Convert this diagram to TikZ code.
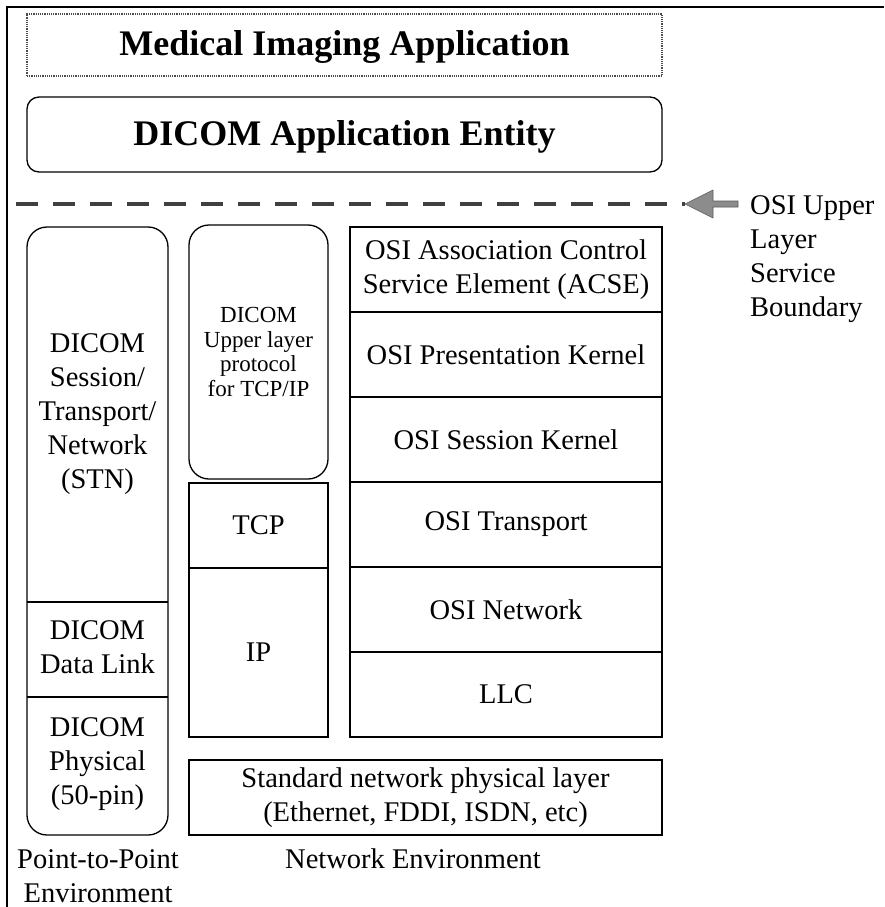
\documentclass[tikz,border=0pt]{standalone}
\usepackage{fontspec}
\setmainfont{Liberation Serif}
\newcommand\bodyfont{\fontsize{28.5}{34}\selectfont}
\newcommand\titlefont{\fontsize{36}{40}\selectfont\bfseries}
\newcommand\protofont{\fontsize{23}{24.5}\selectfont}
\tikzset{
  rule/.style={draw=black, line width=1.3},
  cell/.style={inner sep=0pt, align=center, font=\bodyfont},
  layerbox/.style={cell, rule},
  titlebox/.style={inner sep=0pt, font=\titlefont, text height=24pt, text depth=2pt},
  boundary/.style={draw=black!75, line width=4, dash pattern=on 22pt off 15pt},
  note/.style={inner sep=0pt, align=left, font=\bodyfont},
}
\begin{document}
\begin{tikzpicture}[x=1pt,y=-1pt]
\useasboundingbox (0,0) rectangle (884,907);

% enclosing frame
\draw[line width=2] (7,907) -- (7,7) -- (884,7);

% application layers
\node[titlebox, draw=black!70, densely dotted, line width=1.2,
      minimum width=635, minimum height=62] (app) at (344.5,45) {Medical Imaging Application};
\node[titlebox, rule, rounded corners=12,
      minimum width=635, minimum height=75] (ae) at (344.5,134.5) {DICOM Application Entity};

% upper layer service boundary
\coordinate (bndstart) at (16,204);
\coordinate (bndtip) at (685,204);
\draw[boundary] (bndstart) -- (bndtip);
\fill[black!45, draw=black!65, line width=0.6]
  (bndtip) -- ++(28,-14) -- ++(0,11) -- ++(25,0) -- ++(0,6) -- ++(-25,0) -- ++(0,11) -- cycle;
\node[note, anchor=north west] (bndlabel) at (750,195) {OSI Upper\\Layer\\Service\\Boundary};

% point-to-point stack
\node[cell, minimum width=141, minimum height=375] (stn) at (97.5,414.5)
  {DICOM\\Session/\\Transport/\\Network\\(STN)};
\node[cell, minimum width=141, minimum height=95] (dlink) at (97.5,647.5)
  {DICOM\\Data Link};
\node[cell, minimum width=141, minimum height=138] (phys) at (97.5,764)
  {DICOM\\Physical\\(50-pin)};
\draw[rule, rounded corners=20] (27,227) rectangle (168,835);
\draw[rule] (27,602) -- (168,602);
\draw[rule] (27,697) -- (168,697);

% TCP/IP stack
\node[layerbox, rounded corners=20, font=\protofont, minimum width=139, minimum height=254]
  (proto) at (258.5,352) {DICOM\\Upper layer\\protocol\\for TCP/IP};
\node[layerbox, minimum width=139, minimum height=85] (tcp) at (258.5,525.5) {TCP};
\node[layerbox, minimum width=139, minimum height=169] (ip) at (258.5,652.5) {IP};

% OSI stack
\node[layerbox, minimum width=312, minimum height=85] (acse) at (506,269.5)
  {OSI Association Control\\Service Element (ACSE)};
\node[layerbox, minimum width=312, minimum height=85] (pres) at (506,354.5) {OSI Presentation Kernel};
\node[layerbox, minimum width=312, minimum height=85] (sess) at (506,439.5) {OSI Session Kernel};
\node[layerbox, minimum width=312, minimum height=85] (trans) at (506,524.5) {OSI Transport};
\node[layerbox, minimum width=312, minimum height=85] (net) at (506,609.5) {OSI Network};
\node[layerbox, minimum width=312, minimum height=85] (llc) at (506,694.5) {LLC};

% shared physical layer
\node[layerbox, minimum width=473, minimum height=75] (stdphy) at (425.5,797.5)
  {Standard network physical layer\\(Ethernet, FDDI, ISDN, etc)};

% environment captions
\node[cell] (p2p) at (98,876) {Point-to-Point\\Environment};
\node[cell, anchor=base] (netenv) at (413,868) {Network Environment};
\end{tikzpicture}
\end{document}
